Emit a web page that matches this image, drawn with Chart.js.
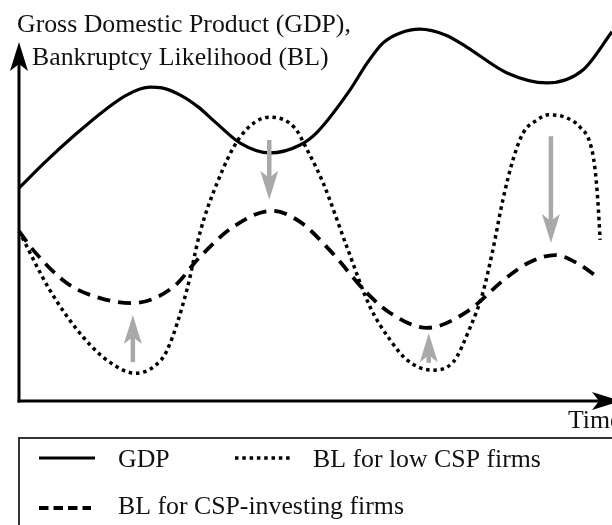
<!DOCTYPE html>
<html>
<head>
<meta charset="utf-8">
<script src="https://cdn.jsdelivr.net/npm/chart.js@4.4.1/dist/chart.umd.min.js"></script>
<style>
  body { margin: 0; background: #fff; }
  #wrap { width: 612px; height: 525px; }
</style>
</head>
<body>
<div id="wrap"><canvas id="c" width="612" height="525"></canvas></div>
<script>
// time 0..100 along the x axis, level 0..100 up the y axis
const gdpTime  = [0, 4.4, 9.4, 14.5, 17.9, 20.4, 22.1, 24.1, 27.2, 30.2, 33.1, 37.3, 42.3, 47.4, 50.3, 55.8, 58.7, 61.4, 64.3, 67.6, 72.0, 75.5, 82.3, 89.0, 95.1, 100];
const gdpLevel = [55.9, 62.7, 69.8, 76.4, 80.1, 81.9, 82.4, 82.2, 80.3, 77.2, 73.2, 67.7, 65.1, 67.2, 70.6, 81.6, 88.7, 94.0, 96.6, 97.6, 96.0, 92.9, 86.1, 83.5, 86.9, 96.9];

const lowTime  = [0, 5.2, 10.8, 15.3, 19.6, 22.9, 25.0, 28.3, 30.5, 33.4, 37.3, 42.3, 46.5, 48.6, 51.3, 55.3, 59.2, 62.6, 65.4, 69.6, 73.2, 76.1, 78.2, 79.9, 81.6, 83.3, 85.0, 87.4, 89.2, 92.4, 94.6, 96.3, 97.1, 97.6, 98.0];
const lowLevel = [44.6, 29.1, 16.8, 10.2, 7.3, 9.2, 13.4, 29.1, 44.1, 57.2, 69.3, 74.5, 71.7, 65.9, 57.2, 40.4, 24.7, 16.0, 10.8, 8.1, 10.2, 19.4, 28.3, 39.6, 52.8, 63.3, 70.3, 73.8, 75.1, 74.3, 71.9, 67.7, 61.4, 52.8, 42.3];

const investTime  = [0, 2.4, 8.1, 13.7, 19.1, 26.0, 30.5, 36.1, 42.7, 47.4, 52.4, 58.7, 62.6, 68.8, 75.5, 82.3, 86.2, 90.4, 94.1, 97.6];
const investLevel = [44.6, 39.6, 30.9, 27.0, 25.7, 29.9, 37.8, 45.7, 49.9, 47.0, 39.6, 28.3, 23.1, 19.2, 23.4, 32.5, 36.5, 38.3, 36.2, 32.5];

// grey arrows: where they sit in time, where they start and where they point
const arrowTime = [19.2, 42.2, 69.1, 89.7];
const arrowFrom = [10.2, 68.5, 10.0, 69.5];
const arrowTo   = [22.6, 52.8, 17.8, 41.5];

const legendLabels = ['GDP', 'BL for low CSP firms', 'BL for CSP-investing firms'];
const titleLines = ['Gross Domestic Product (GDP),', 'Bankruptcy Likelihood (BL)'];
const xAxisLabel = 'Time';

const toPoints = (xs, ys) => xs.map((x, i) => ({ x: x, y: ys[i] }));

const FONT = '25.8px "Liberation Serif", "Times New Roman", serif';
const DOT = [3.5, 3.8];
const DASH = [13, 8];

// filled arrow head with a notch at the back, pointing along ang
function arrowHead(ctx, x, y, ang, len, hw, notch) {
  ctx.save();
  ctx.translate(x, y);
  ctx.rotate(ang);
  ctx.beginPath();
  ctx.moveTo(0, 0);
  ctx.lineTo(-len, -hw);
  ctx.lineTo(-len + notch, 0);
  ctx.lineTo(-len, hw);
  ctx.closePath();
  ctx.fill();
  ctx.restore();
}

const decor = {
  id: 'decor',
  beforeDraw(chart) {
    const ctx = chart.ctx;
    ctx.save();
    ctx.fillStyle = '#fff';
    ctx.fillRect(0, 0, chart.width, chart.height);
    ctx.restore();
  },
  afterDatasetsDraw(chart) {
    const ctx = chart.ctx;
    const xs = chart.scales.x, ys = chart.scales.y;
    const area = chart.chartArea;
    ctx.save();

    // grey arrows
    ctx.fillStyle = '#a9a9a9';
    ctx.strokeStyle = '#a9a9a9';
    ctx.lineWidth = 4.5;
    ctx.setLineDash([]);
    for (let i = 0; i < arrowTime.length; i++) {
      const px = xs.getPixelForValue(arrowTime[i]);
      const y0 = ys.getPixelForValue(arrowFrom[i]);
      const y1 = ys.getPixelForValue(arrowTo[i]);
      const dir = y1 < y0 ? -1 : 1;
      ctx.beginPath();
      ctx.moveTo(px, y0);
      ctx.lineTo(px, y1 - dir * 20);
      ctx.stroke();
      arrowHead(ctx, px, y1, dir < 0 ? -Math.PI / 2 : Math.PI / 2, 29, 9, 7);
    }

    // axes
    ctx.strokeStyle = '#000';
    ctx.fillStyle = '#000';
    ctx.lineWidth = 3;
    ctx.beginPath();
    ctx.moveTo(area.left, area.bottom + 1.5);
    ctx.lineTo(area.left, 62);
    ctx.stroke();
    arrowHead(ctx, area.left, 42, -Math.PI / 2, 29, 9, 7);
    ctx.beginPath();
    ctx.moveTo(area.left - 1.5, area.bottom);
    ctx.lineTo(600, area.bottom);
    ctx.stroke();
    arrowHead(ctx, 621, area.bottom, 0, 29, 9, 7);

    // texts
    ctx.font = FONT;
    ctx.textBaseline = 'alphabetic';
    ctx.fillStyle = '#111';
    ctx.fillText(titleLines[0], 17, 32);
    ctx.fillText(titleLines[1], 32, 65);
    ctx.fillText(xAxisLabel, 568, 428);

    // legend box
    ctx.strokeStyle = '#333';
    ctx.lineWidth = 2;
    ctx.strokeRect(19, 438, 640, 120);

    const samples = [
      { x0: 39, x1: 95, y: 458, dash: [], w: 3.2, tx: 118, ty: 467 },
      { x0: 235, x1: 291, y: 458, dash: DOT, w: 3.5, tx: 313, ty: 467 },
      { x0: 39, x1: 91, y: 508, dash: [9.5, 5], w: 3.8, tx: 118, ty: 514 }
    ];
    samples.forEach((s, i) => {
      ctx.strokeStyle = '#000';
      ctx.lineWidth = s.w;
      ctx.setLineDash(s.dash);
      ctx.beginPath();
      ctx.moveTo(s.x0, s.y);
      ctx.lineTo(s.x1, s.y);
      ctx.stroke();
      ctx.setLineDash([]);
      ctx.fillStyle = '#111';
      ctx.fillText(legendLabels[i], s.tx, s.ty);
    });

    ctx.restore();
  }
};

new Chart(document.getElementById('c'), {
  type: 'line',
  data: {
    datasets: [
      {
        label: legendLabels[0],
        data: toPoints(gdpTime, gdpLevel),
        borderColor: '#000',
        borderWidth: 3.2,
        pointRadius: 0,
        cubicInterpolationMode: 'monotone',
        clip: false
      },
      {
        label: legendLabels[1],
        data: toPoints(lowTime, lowLevel),
        borderColor: '#000',
        borderWidth: 3.5,
        borderDash: DOT,
        pointRadius: 0,
        cubicInterpolationMode: 'monotone',
        clip: false
      },
      {
        label: legendLabels[2],
        data: toPoints(investTime, investLevel),
        borderColor: '#000',
        borderWidth: 3.8,
        borderDash: DASH,
        pointRadius: 0,
        cubicInterpolationMode: 'monotone',
        clip: false
      }
    ]
  },
  options: {
    responsive: false,
    animation: false,
    devicePixelRatio: 1,
    layout: { padding: { left: 19, right: 0, top: 20, bottom: 124 } },
    scales: {
      x: { type: 'linear', min: 0, max: 100, display: false },
      y: { min: 0, max: 100, display: false }
    },
    plugins: {
      legend: { display: false },
      tooltip: { enabled: false }
    }
  },
  plugins: [decor]
});
</script>
</body>
</html>
